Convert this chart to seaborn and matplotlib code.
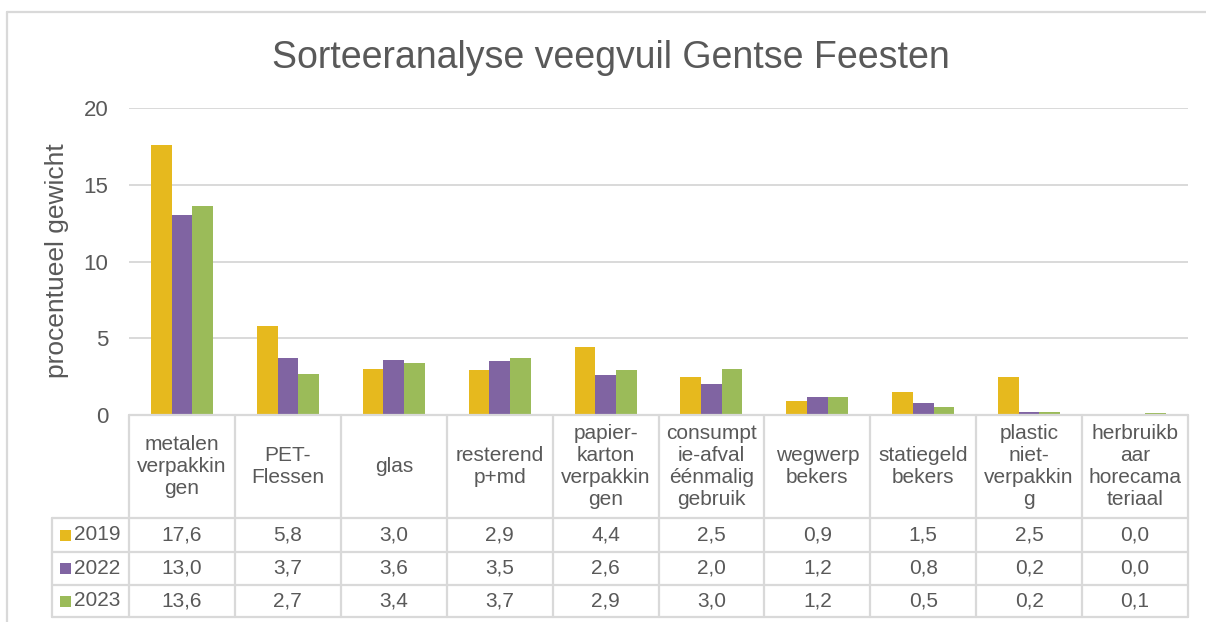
import numpy as np
import pandas as pd
import matplotlib
matplotlib.use("Agg")
import matplotlib.pyplot as plt
from matplotlib.transforms import blended_transform_factory
from matplotlib.lines import Line2D
from matplotlib.patches import Rectangle
import seaborn as sns

# Waste fractions (header labels wrapped as in the data table)
categories = [
    "metalen\nverpakkin\ngen",
    "PET-\nFlessen",
    "glas",
    "resterend\np+md",
    "papier-\nkarton\nverpakkin\ngen",
    "consumpt\nie-afval\néénmalig\ngebruik",
    "wegwerp\nbekers",
    "statiegeld\nbekers",
    "plastic\nniet-\nverpakkin\ng",
    "herbruikb\naar\nhorecama\nteriaal",
]
years = ["2019", "2022", "2023"]
values_2019 = [17.6, 5.8, 3.0, 2.9, 4.4, 2.5, 0.9, 1.5, 2.5, 0.0]
values_2022 = [13.0, 3.7, 3.6, 3.5, 2.6, 2.0, 1.2, 0.8, 0.2, 0.0]
values_2023 = [13.6, 2.7, 3.4, 3.7, 2.9, 3.0, 1.2, 0.5, 0.2, 0.1]
y_ticks = [0, 5, 10, 15, 20]

title = "Sorteeranalyse veegvuil Gentse Feesten"
y_label = "procentueel gewicht"

colors = ["#E6B91E", "#8064A2", "#9BBB59"]
text_color = "#595959"
line_color = "#D9D9D9"

sns.set_style("white")
plt.rcParams["font.family"] = ["Liberation Sans", "DejaVu Sans"]

W, H = 1206, 622
fig = plt.figure(figsize=(W / 100, H / 100), dpi=100)
L, R, T, B = 129, 1188, 108, 415
ax = fig.add_axes([L / W, 1 - B / H, (R - L) / W, (B - T) / H])

df = pd.DataFrame({
    "categorie": categories * len(years),
    "jaar": np.repeat(years, len(categories)),
    "waarde": values_2019 + values_2022 + values_2023,
})
sns.barplot(data=df, x="categorie", y="waarde", hue="jaar", palette=colors,
            width=0.585, saturation=1, errorbar=None, legend=False,
            linewidth=0, edgecolor="none", ax=ax)

ax.set_xlim(-0.5, len(categories) - 0.5)
ax.set_ylim(0, 20)
ax.set_yticks(y_ticks)
ax.set_xticks([])
ax.set_xlabel("")
ax.set_ylabel("")
for s in ax.spines.values():
    s.set_visible(False)
ax.yaxis.grid(True, color=line_color, lw=1.4)
ax.set_axisbelow(True)
ax.tick_params(axis="y", length=0, pad=15, labelsize=16, labelcolor=text_color)


def fx(px):
    return (px - L) / (R - L)


def fy(py):
    return (B - py) / (B - T)


def hline(x0, x1, py):
    ax.add_line(Line2D([fx(x0), fx(x1)], [fy(py), fy(py)], transform=ax.transAxes,
                       color=line_color, lw=1.6, clip_on=False))


def vline(px, y0, y1):
    ax.add_line(Line2D([fx(px), fx(px)], [fy(y0), fy(y1)], transform=ax.transAxes,
                       color=line_color, lw=1.6, clip_on=False))


# Data table below the plot
tbl_left = 52
row_edges = [518, 552, 585, 617]
hline(L, R, B)
for py in row_edges:
    hline(tbl_left, R, py)
vline(tbl_left, row_edges[0], row_edges[-1])
for k in range(len(categories) + 1):
    px = L + k * (R - L) / len(categories)
    vline(px, B, row_edges[-1])

mix = blended_transform_factory(ax.transData, ax.transAxes)
header_mid = (B + row_edges[0]) / 2
for i, cat in enumerate(categories):
    ax.text(i, fy(header_mid), cat, transform=mix, ha="center", va="center",
            fontsize=15, color=text_color, linespacing=1.2, clip_on=False)

series = [values_2019, values_2022, values_2023]
for r, (year, vals, col) in enumerate(zip(years, series, colors)):
    mid = (row_edges[r] + row_edges[r + 1]) / 2
    for i, v in enumerate(vals):
        ax.text(i, fy(mid), f"{v:.1f}".replace(".", ","), transform=mix,
                ha="center", va="center", fontsize=15, color=text_color, clip_on=False)
    sq = 11
    ax.add_patch(Rectangle((fx(60), fy(mid + sq / 2)), sq / (R - L), sq / (B - T),
                           transform=ax.transAxes, facecolor=col, edgecolor="none",
                           clip_on=False))
    ax.text(fx(74), fy(mid), year, transform=ax.transAxes, ha="left", va="center",
            fontsize=15, color=text_color, clip_on=False)

fig.text(611 / W, 1 - 68 / H, title, ha="center", va="baseline",
         fontsize=27, color=text_color)
fig.text(57 / W, 1 - 261 / H, y_label, rotation=90, ha="center", va="center",
         fontsize=19, color=text_color)

# Chart frame
fig.add_artist(Line2D([7 / W, 7 / W], [1 - 12 / H, 0], transform=fig.transFigure,
                      color=line_color, lw=1.6))
fig.add_artist(Line2D([7 / W, 1], [1 - 12 / H, 1 - 12 / H], transform=fig.transFigure,
                      color=line_color, lw=1.6))

fig.savefig("out.png", dpi=100)
